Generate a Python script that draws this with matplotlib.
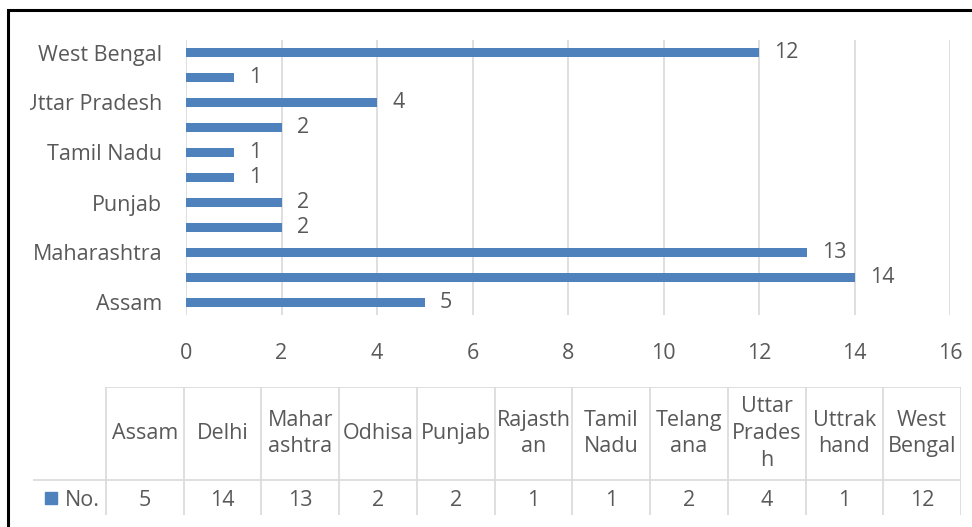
import matplotlib.pyplot as plt
from matplotlib.patches import Rectangle
from matplotlib.transforms import Bbox

plt.rcParams['font.family'] = ['Open Sans', 'DejaVu Sans']

states = ['Assam', 'Delhi', 'Maharashtra', 'Odhisa', 'Punjab', 'Rajasthan',
          'Tamil Nadu', 'Telangana', 'Uttar Pradesh', 'Uttrakhand', 'West Bengal']
counts = [5, 14, 13, 2, 2, 1, 1, 2, 4, 1, 12]
# header text as wrapped in the data table
header_labels = ['Assam', 'Delhi', 'Mahar\nashtra', 'Odhisa', 'Punjab', 'Rajasth\nan',
                 'Tamil\nNadu', 'Telang\nana', 'Uttar\nPrades\nh', 'Uttrak\nhand', 'West\nBengal']
series_name = 'No.'
xticks = [0, 2, 4, 6, 8, 10, 12, 14, 16]

blue = '#4f81bd'
grey_text = '#595959'
grid_col = '#d9d9d9'
fs = 15.5

W, H = 972, 527
fig = plt.figure(figsize=(W / 100, H / 100), dpi=100)

# bar chart
ax = fig.add_axes([186 / W, 1 - 315 / H, (950 - 186) / W, (315 - 40) / H])
ypos = list(range(len(states)))
bars = ax.barh(ypos, counts, height=0.36, color=blue, zorder=3)
ax.bar_label(bars, padding=11, fontsize=fs, color=grey_text)
ax.set_xlim(0, 16)
ax.set_ylim(-0.5, len(states) - 0.5)
ax.set_xticks(xticks)
ax.set_yticks(ypos[::2])
ax.set_yticklabels(states[::2])
ax.tick_params(axis='x', length=0, pad=20, labelsize=fs, labelcolor=grey_text)
ax.tick_params(axis='y', length=0, pad=17, labelsize=fs, labelcolor=grey_text)
ax.grid(axis='x', color=grid_col, linewidth=1.2, zorder=0)
for s in ax.spines.values():
    s.set_visible(False)

# left part of long labels is cut off like in the source image
clip = Bbox([[30, 0], [W, H]])
for lab in ax.get_yticklabels():
    lab.set_clip_box(clip)
    lab.set_clip_on(True)

# data table below the chart
tax = fig.add_axes([33 / W, 1 - 515 / H, (961 - 33) / W, (515 - 387) / H])
x0 = -(106 - 33) / 77.8
n = len(states)
tax.set_xlim(x0, n)
tax.set_ylim(0, 1)
tax.axis('off')
hb = 35 / 128
tax.hlines(1, 0, n, color=grid_col, linewidth=1.2)
tax.hlines(hb, x0, n, color=grid_col, linewidth=1.2)
tax.vlines(range(n + 1), 0, 1, color=grid_col, linewidth=1.2)
for i in range(n):
    tax.text(i + 0.5, (hb + 1) / 2, header_labels[i], ha='center', va='center',
             fontsize=fs, color=grey_text, linespacing=1.35)
    tax.text(i + 0.5, hb / 2 - 0.02, str(counts[i]), ha='center', va='center',
             fontsize=fs, color=grey_text)
tax.plot([x0 + 18 / 77.8], [hb / 2], marker='s', markersize=9, color=blue, linestyle='none')
tax.text(x0 + 32 / 77.8, hb / 2 - 0.02, series_name, ha='left', va='center',
         fontsize=fs, color=grey_text)

# black frame (only left and top edges visible)
fig.patches.append(Rectangle((8 / W, -0.2), 1.2, 1.2 - 10 / H, transform=fig.transFigure,
                             fill=False, edgecolor='black', linewidth=2.2))

fig.savefig('out.png', dpi=100)
